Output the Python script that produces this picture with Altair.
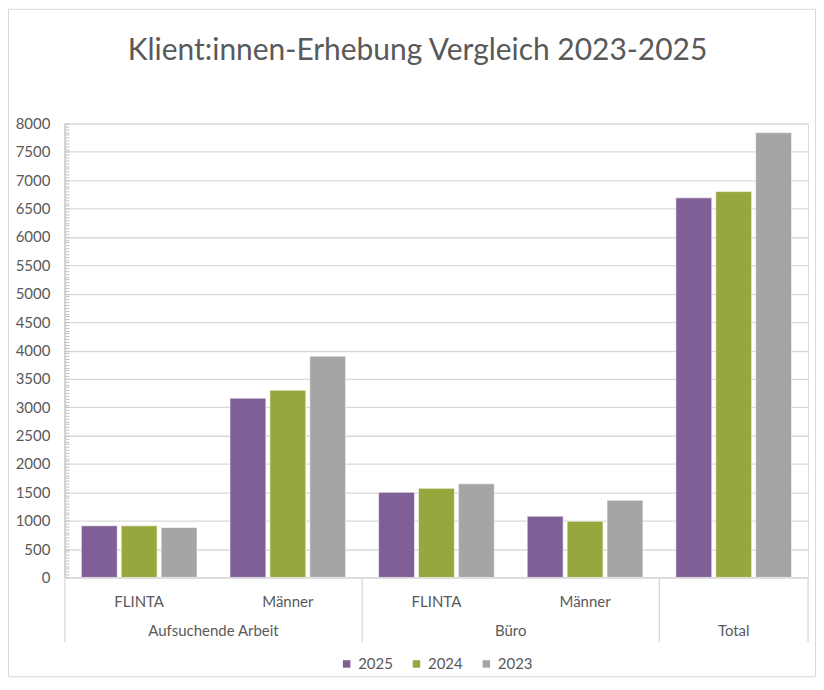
import altair as alt
import pandas as pd

# ---- data ----
groups = ["Aufsuchende Arbeit", "Aufsuchende Arbeit", "Büro", "Büro", "Total"]
subcats = ["FLINTA", "Männer", "FLINTA", "Männer", ""]
years = ["2025", "2024", "2023"]
values_2025 = [910, 3160, 1500, 1080, 6690]
values_2024 = [910, 3300, 1570, 990, 6800]
values_2023 = [880, 3900, 1650, 1360, 7840]
colors = ["#7f5f95", "#98a63e", "#a5a5a5"]
title_text = "Klient:innen-Erhebung Vergleich 2023-2025"

# ---- build tables ----
keys = [f"{g}|{s}" for g, s in zip(groups, subcats)]
series = {"2025": values_2025, "2024": values_2024, "2023": values_2023}
rows = []
for y in years:
    for k, v in zip(keys, series[y]):
        rows.append({"key": k, "year": y, "value": v})
df = pd.DataFrame(rows)

# group spans
group_rows = []
for g in dict.fromkeys(groups):
    ks = [k for k, gg in zip(keys, groups) if gg == g]
    group_rows.append({"key": ks[0], "label": g, "span": len(ks)})
gdf = pd.DataFrame(group_rows)
g_multi = gdf[gdf["span"] == 2]
g_single = gdf[gdf["span"] == 1]

W, H = 745, 455
TXT = "#595959"
FONT = "Lato"

x_scale = alt.Scale(paddingInner=0, paddingOuter=0)


def xenc(band=0.5):
    return alt.X("key:N", sort=keys, scale=x_scale, bandPosition=band,
                 axis=alt.Axis(title=None, labelExpr="split(datum.value, '|')[1]",
                               ticks=False, labelPadding=17, labelFontSize=15,
                               labelColor=TXT, labelFont=FONT, domainColor="#d9d9d9",
                               domainWidth=1, labelAngle=0, grid=False))


bars = alt.Chart(df).mark_bar(stroke="white", strokeWidth=0.6).encode(
    x=xenc(),
    xOffset=alt.XOffset("year:N", sort=years,
                        scale=alt.Scale(paddingInner=0.1, paddingOuter=0.4125)),
    y=alt.Y("value:Q", scale=alt.Scale(domain=[0, 8000], nice=False),
            axis=alt.Axis(title=None, values=list(range(0, 8001, 50)),
                          labelExpr="datum.value % 500 === 0 ? datum.label : ''",
                          labelOverlap=False, format="d",
                          offset=-4, tickSize=4, tickColor="#bfbfbf", domain=False,
                          labelPadding=15, labelFontSize=15, labelColor=TXT,
                          labelFont=FONT,
                          gridColor="#d9d9d9", gridWidth=1.3,
                          gridOpacity={"condition": {"test": "datum.value % 500 === 0",
                                                     "value": 1}, "value": 0})),
    color=alt.Color("year:N", sort=years, scale=alt.Scale(domain=years, range=colors),
                    legend=alt.Legend(title=None, orient="none", direction="horizontal",
                                      legendX=275, legendY=534, symbolType="square",
                                      symbolSize=56, symbolStrokeWidth=0,
                                      labelFontSize=15, labelColor=TXT, labelFont=FONT,
                                      columnPadding=16, labelOffset=4)),
)

yaxis_line = alt.Chart(alt.Data(values=[{"a": 0}])).mark_rule(
    color="#bfbfbf", strokeWidth=1).encode(
    x=alt.value(0), y=alt.value(0), y2=alt.value(H))

sep_left = alt.Chart(gdf).mark_rule(color="#d9d9d9", strokeWidth=1.3).encode(
    x=xenc(0), y=alt.value(H), y2=alt.value(H + 65))
sep_right = alt.Chart(g_single).mark_rule(color="#d9d9d9", strokeWidth=1.3).encode(
    x=xenc(1), y=alt.value(H), y2=alt.value(H + 65))

glab_multi = alt.Chart(g_multi).mark_text(
    fontSize=15, font=FONT, color=TXT, baseline="middle").encode(
    x=xenc(1), y=alt.value(H + 54), text="label:N")
glab_single = alt.Chart(g_single).mark_text(
    fontSize=15, font=FONT, color=TXT, baseline="middle").encode(
    x=xenc(0.5), y=alt.value(H + 54), text="label:N")

title = alt.Chart(alt.Data(values=[{"t": title_text}])).mark_text(
    fontSize=30, font=FONT, color=TXT, baseline="alphabetic", align="center").encode(
    x=alt.value(W / 2 - 19), y=alt.value(-64), text="t:N")

border = alt.Chart(alt.Data(values=[{"a": 0}])).mark_rect(
    fill=None, stroke="#d9d9d9", strokeWidth=1).encode(
    x=alt.value(-56.5), y=alt.value(-114.5),
    x2=alt.value(W + 7.5), y2=alt.value(H + 99.5))

chart = alt.layer(border, title, bars, yaxis_line, sep_left, sep_right,
                  glab_multi, glab_single).properties(
    width=W, height=H,
    autosize=alt.AutoSizeParams(type="none"),
    padding={"left": 57, "top": 115, "right": 8, "bottom": 100},
).configure_view(stroke=None).configure(background="white")

chart.save("out.html", embed_options={"renderer": "svg", "actions": False})
